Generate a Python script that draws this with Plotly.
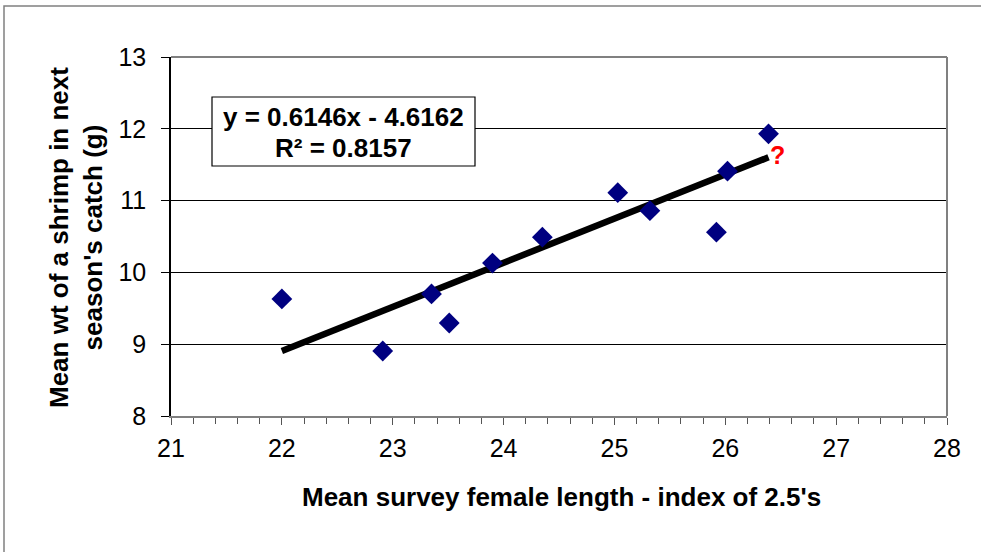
import plotly.graph_objects as go

# Data
length_index = [22.0, 22.91, 23.35, 23.51, 23.90, 24.35, 25.03, 25.32, 25.92, 26.02, 26.39]
mean_weight = [9.63, 8.905, 9.70, 9.295, 10.13, 10.49, 11.11, 10.86, 10.56, 11.41, 11.93]
slope = 0.6146
intercept = -4.6162
r_squared = 0.8157

x_ticks = [21, 22, 23, 24, 25, 26, 27, 28]
y_ticks = [8, 9, 10, 11, 12, 13]

x_title = "Mean survey female length - index of 2.5's"
y_title = "Mean wt of a shrimp in next<br>season's catch (g)"

trend_x = [min(length_index), max(length_index)]
trend_y = [slope * v + intercept for v in trend_x]

FONT = "Liberation Sans, Arial, sans-serif"

fig = go.Figure()
fig.add_trace(go.Scatter(
    x=trend_x, y=trend_y, mode="lines",
    line=dict(color="black", width=6.5), hoverinfo="skip", showlegend=False,
))
fig.add_trace(go.Scatter(
    x=length_index, y=mean_weight, mode="markers",
    marker=dict(symbol="diamond", size=16, color="#000080"),
    showlegend=False,
))

W, H = 981, 552
L, R, T, B = 171, 34, 57, 136
pw, ph = W - L - R, H - T - B


def px(x):
    return (x - L) / pw


def py(y):
    return (H - B - y) / ph


fig.update_layout(
    width=W, height=H,
    margin=dict(l=L, r=R, t=T, b=B),
    paper_bgcolor="white", plot_bgcolor="white",
    font=dict(family=FONT, size=25, color="black"),
    xaxis=dict(
        range=[21, 28], tickvals=x_ticks, ticks="outside", ticklen=7, tickwidth=1,
        tickcolor="#555555", showline=True, linecolor="#808080", linewidth=2,
        showgrid=False, zeroline=False, mirror=False,
        minor=dict(dtick=0.2, ticks="outside", ticklen=6, tickcolor="#555555", showgrid=False),
        tickfont=dict(size=25, family=FONT),
        ticklabelstandoff=2,
    ),
    yaxis=dict(
        range=[8, 13], tickvals=y_ticks, ticks="outside", ticklen=8, tickwidth=1,
        tickcolor="black", showline=True, linecolor="black", linewidth=1.5,
        showgrid=True, gridcolor="black", gridwidth=1, zeroline=False,
        tickfont=dict(size=25, family=FONT),
        ticklabelstandoff=10,
    ),
    shapes=[
        dict(type="line", xref="x domain", yref="y domain", x0=0, x1=1, y0=1, y1=1,
             line=dict(color="#808080", width=2)),
        dict(type="line", xref="x domain", yref="y domain", x0=1, x1=1, y0=0, y1=1,
             line=dict(color="#808080", width=2)),
        # outer chart border
        dict(type="rect", xref="paper", yref="paper",
             x0=px(4), x1=px(W + 20), y0=py(H + 20), y1=py(6),
             line=dict(color="#808080", width=1.5), fillcolor="rgba(0,0,0,0)", layer="below"),
        # equation box
        dict(type="rect", xref="paper", yref="paper",
             x0=px(212), x1=px(475), y0=py(166), y1=py(97),
             line=dict(color="black", width=1.2), fillcolor="white", layer="above"),
    ],
    annotations=[
        dict(x=px(343), y=py(117), xref="paper", yref="paper",
             text=f"<b>y = {slope}x - {abs(intercept)}</b>",
             showarrow=False, font=dict(size=26, family=FONT, color="black"),
             xanchor="center", yanchor="middle"),
        dict(x=px(343), y=py(148), xref="paper", yref="paper",
             text=f"<b>R² = {r_squared}</b>",
             showarrow=False, font=dict(size=26, family=FONT, color="black"),
             xanchor="center", yanchor="middle"),
        dict(x=26.47, y=11.64, xref="x", yref="y", text="<b>?</b>", showarrow=False,
             font=dict(size=25, family=FONT, color="red"), xanchor="center", yanchor="middle"),
        dict(x=px(561), y=py(497), xref="paper", yref="paper",
             text=f"<b>{x_title}</b>", showarrow=False,
             font=dict(size=26, family=FONT, color="black"),
             xanchor="center", yanchor="middle"),
        dict(x=px(76), y=py(238), xref="paper", yref="paper",
             text=f"<b>{y_title}</b>", showarrow=False, textangle=-90,
             font=dict(size=26, family=FONT, color="black"),
             xanchor="center", yanchor="middle"),
    ],
)

fig.write_html("out.html", config={"displayModeBar": False},
               post_script="document.body.style.margin='0';")
